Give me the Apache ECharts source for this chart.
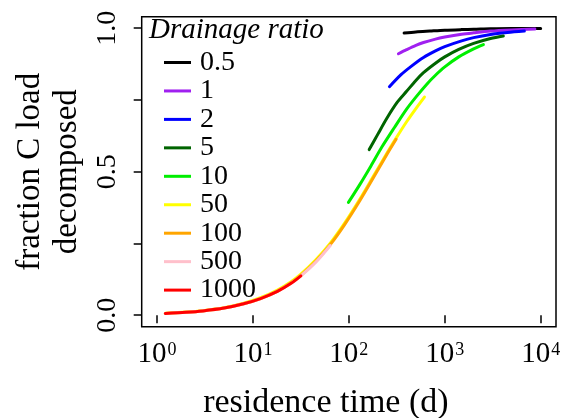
<!DOCTYPE html>
<html>
<head>
<meta charset="utf-8">
<script src="https://cdn.jsdelivr.net/npm/echarts@6/dist/echarts.min.js"></script>
<style>
html, body { margin: 0; padding: 0; background: #fff; }
#chart { width: 564px; height: 418px; }
</style>
</head>
<body>
<div id="chart"></div>
<script>
// ---- data ----
const ratioNames = ['0.5', '1', '2', '5', '10', '50', '100', '500', '1000'];
const xTickValues = [1, 10, 100, 1000, 10000];
const yTickValues = [0, 0.25, 0.5, 0.75, 1];
const yLabelValues = [0, 0.5, 1];

// [residence time (d), fraction C load decomposed]
const ratio0_5 = [[377, 0.983], [500, 0.987], [700, 0.990], [1000, 0.993], [1500, 0.995], [2000, 0.996], [3000, 0.998], [5000, 0.999], [10000, 0.999]];
const ratio1 = [[329, 0.911], [400, 0.925], [500, 0.940], [600, 0.950], [800, 0.962], [1000, 0.969], [1500, 0.979], [2000, 0.984], [3000, 0.990], [5000, 0.994], [8700, 0.997]];
const ratio2 = [[265, 0.796], [350, 0.838], [450, 0.868], [600, 0.898], [800, 0.921], [1000, 0.936], [1500, 0.956], [2000, 0.967], [3000, 0.978], [4500, 0.985], [6760, 0.990]];
const ratio5 = [[163, 0.577], [200, 0.630], [250, 0.687], [320, 0.742], [400, 0.780], [500, 0.818], [600, 0.845], [800, 0.878], [1000, 0.900], [1400, 0.926], [2000, 0.947], [3000, 0.964], [4080, 0.973]];
const ratio10 = [[99, 0.393], [130, 0.455], [170, 0.520], [220, 0.585], [300, 0.655], [400, 0.718], [500, 0.760], [650, 0.805], [800, 0.836], [1000, 0.865], [1400, 0.900], [2000, 0.928], [2530, 0.943]];
const ratio50 = [[1.22, 0.007], [2, 0.011], [3, 0.016], [5, 0.026], [8, 0.042], [12, 0.061], [18, 0.088], [25, 0.117], [31.6, 0.143], [45, 0.192], [64, 0.251], [90, 0.320], [130, 0.404], [180, 0.484], [250, 0.565], [311, 0.617], [400, 0.674], [500, 0.720], [614, 0.760]];
const ratio100 = [[1.22, 0.006], [2, 0.010], [3, 0.015], [5, 0.025], [8, 0.040], [12, 0.058], [18, 0.084], [25, 0.113], [31.6, 0.139], [45, 0.187], [64, 0.246], [90, 0.315], [130, 0.399], [180, 0.479], [250, 0.561], [311, 0.613]];
const ratio500 = [[1.22, 0.006], [2, 0.010], [3, 0.015], [5, 0.025], [8, 0.040], [12, 0.058], [18, 0.083], [25, 0.111], [31.6, 0.137], [45, 0.184], [64, 0.243]];
const ratio1000 = [[1.22, 0.006], [2, 0.010], [3, 0.015], [5, 0.025], [8, 0.040], [12, 0.058], [18, 0.083], [25, 0.111], [31.6, 0.137]];

const seriesData = [ratio0_5, ratio1, ratio2, ratio5, ratio10, ratio50, ratio100, ratio500, ratio1000];

const FONT = '"Liberation Serif", "Times New Roman", serif';
const chart = echarts.init(document.getElementById('chart'), null, { renderer: 'canvas' });

const option = {
  animation: false,
  backgroundColor: '#ffffff',
  color: ['#000000', '#a020f0', '#0000ff', '#006400', '#00ee00', '#ffff00', '#ffa500', '#ffc0cb', '#ff0000'],
  title: {
    text: 'Drainage ratio',
    left: 149,
    top: 16,
    padding: 0,
    textStyle: { fontFamily: FONT, fontStyle: 'italic', fontWeight: 'normal', fontSize: 29, color: '#000' }
  },
  legend: {
    orient: 'vertical',
    left: 164,
    top: 48.5,
    padding: 0,
    itemWidth: 27,
    itemHeight: 3,
    itemGap: 0.45,
    icon: 'rect',
    data: ratioNames,
    textStyle: { fontFamily: FONT, fontSize: 28, lineHeight: 26, color: '#000', padding: [0, 0, 0, 4] }
  },
  grid: {
    left: 141.7, top: 16.7, right: 8, bottom: 91.3,
    outerBoundsMode: 'none',
    containLabel: false,
    show: true, borderColor: '#000', borderWidth: 1.5, backgroundColor: 'transparent'
  },
  xAxis: {
    type: 'log',
    logBase: 10,
    min: 0.6918,
    max: 14454,
    name: 'residence time (d)',
    nameLocation: 'middle',
    nameGap: 59,
    nameTextStyle: { fontFamily: FONT, fontSize: 34, color: '#000', padding: [0, 46, 0, 0] },
    axisLine: { show: false },
    splitLine: { show: false },
    minorTick: { show: false },
    axisTick: { show: true, length: 8, customValues: xTickValues, lineStyle: { color: '#000', width: 1.5 } },
    axisLabel: {
      customValues: xTickValues,
      margin: 13,
      formatter: function (v) {
        const e = Math.round(Math.log10(v));
        return '{b|10}{s|' + e + '}';
      },
      rich: {
        b: { fontFamily: FONT, fontSize: 29, lineHeight: 30, color: '#000' },
        s: { fontFamily: FONT, fontSize: 18, lineHeight: 18, verticalAlign: 'top', color: '#000', padding: [2, 0, 0, 1] }
      }
    }
  },
  yAxis: {
    type: 'value',
    min: -0.04,
    max: 1.04,
    name: 'fraction C load\ndecomposed',
    nameLocation: 'middle',
    nameRotate: 90,
    nameGap: 55,
    nameTextStyle: { fontFamily: FONT, fontSize: 33, lineHeight: 37, color: '#000' },
    axisLine: { show: false },
    splitLine: { show: false },
    axisTick: { show: true, length: 8, customValues: yTickValues, lineStyle: { color: '#000', width: 1.5 } },
    axisLabel: {
      customValues: yLabelValues,
      rotate: 90,
      margin: 20,
      fontFamily: FONT,
      fontSize: 28,
      color: '#000',
      formatter: function (v) { return v.toFixed(1); }
    }
  },
  series: seriesData.map(function (d, i) {
    return {
      name: ratioNames[i],
      type: 'line',
      data: d,
      smooth: 0.3,
      symbol: 'none',
      clip: true,
      lineStyle: { width: 3, cap: 'round', join: 'round' },
      emphasis: { disabled: true }
    };
  })
};

chart.setOption(option);
</script>
</body>
</html>
